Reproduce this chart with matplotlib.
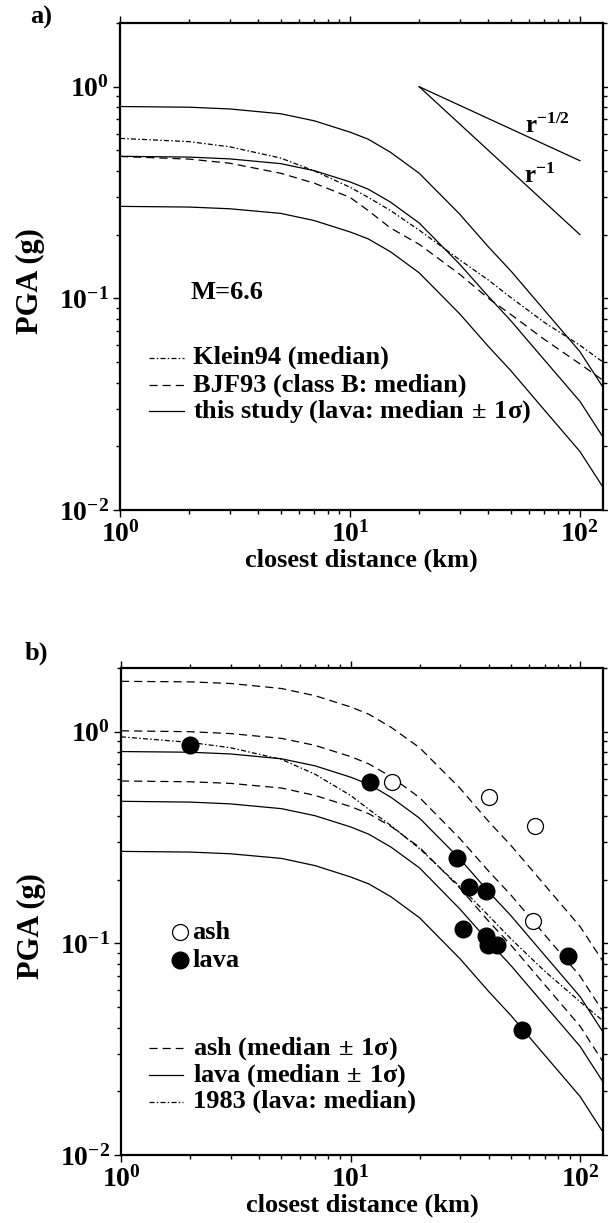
import numpy as np
import matplotlib
matplotlib.use("Agg")
import matplotlib.pyplot as plt
from matplotlib.ticker import FixedLocator, FuncFormatter, LogLocator, NullFormatter

plt.rcParams["font.family"] = ["Liberation Serif", "DejaVu Serif"]
plt.rcParams["font.weight"] = "bold"
plt.rcParams["mathtext.fontset"] = "custom"
plt.rcParams["mathtext.rm"] = "Liberation Serif:bold"
plt.rcParams["mathtext.it"] = "Liberation Serif:bold"
plt.rcParams["mathtext.bf"] = "Liberation Serif:bold"
plt.rcParams["mathtext.default"] = "rm"

dist = [1, 2, 3, 5, 7, 10, 12, 15, 20, 30, 40, 50, 70, 100, 126]

# this study, lava sites: median and +/- 1 sigma (g)
lava_hi = [0.806, 0.80, 0.785, 0.745, 0.69, 0.61, 0.565, 0.49, 0.39, 0.25, 0.175, 0.135, 0.088, 0.056, 0.038]
lava_med = [0.469, 0.465, 0.456, 0.433, 0.401, 0.355, 0.328, 0.285, 0.227, 0.145, 0.102, 0.0785, 0.0512, 0.0326, 0.0221]
lava_lo = [0.272, 0.270, 0.265, 0.252, 0.233, 0.206, 0.191, 0.166, 0.132, 0.0845, 0.0592, 0.0456, 0.0297, 0.0189, 0.0128]

# ash sites: median and +/- 1 sigma (g)
ash_hi = [1.73, 1.72, 1.69, 1.60, 1.48, 1.31, 1.21, 1.05, 0.84, 0.54, 0.376, 0.29, 0.189, 0.120, 0.082]
ash_med = [1.01, 1.00, 0.98, 0.93, 0.862, 0.763, 0.705, 0.613, 0.488, 0.312, 0.219, 0.169, 0.110, 0.070, 0.0475]
ash_lo = [0.585, 0.58, 0.57, 0.542, 0.50, 0.443, 0.41, 0.357, 0.284, 0.182, 0.127, 0.098, 0.0639, 0.0406, 0.0275]

# other relations
klein94 = [0.57, 0.55, 0.52, 0.46, 0.40, 0.335, 0.30, 0.26, 0.21, 0.152, 0.122, 0.101, 0.077, 0.060, 0.050]
bjf93 = [0.468, 0.455, 0.435, 0.39, 0.35, 0.30, 0.26, 0.215, 0.18, 0.13, 0.10, 0.084, 0.064, 0.049, 0.041]
eq1983 = [0.946, 0.89, 0.84, 0.74, 0.63, 0.50, 0.43, 0.36, 0.28, 0.185, 0.135, 0.105, 0.074, 0.053, 0.043]

# geometric spreading reference slopes
ref_r = [20, 100]
ref_half = [1.0, 0.447]
ref_one = [1.0, 0.2]

# recorded PGA, 1983 event
ash_r = [15.2, 40.1, 63.8, 62.2]
ash_pga = [0.581, 0.493, 0.360, 0.127]
lava_r = [2.0, 12.1, 29.0, 32.9, 38.9, 31.0, 38.8, 39.6, 43.4, 88.4, 56.1]
lava_pga = [0.867, 0.581, 0.253, 0.184, 0.176, 0.117, 0.108, 0.098, 0.098, 0.087, 0.039]

DASH = (0, (6.5, 4))
DASHDOT = (0, (4, 1.8, 1.2, 1.8))
LW = 0.9
FS = 19

fig = plt.figure(figsize=(6.08, 12.23), dpi=100)
ax_a = fig.add_axes([0.1974, 0.583, 0.7944, 0.3982])
ax_b = fig.add_axes([0.199, 0.0556, 0.793, 0.3982])


def style(ax):
    ax.set_xscale("log")
    ax.set_yscale("log")
    ax.set_xlim(1, 126)
    ax.set_ylim(0.01, 2.0)
    fmt = FuncFormatter(lambda v, p: r"$10^{%d}$" % round(np.log10(v)))
    ax.xaxis.set_major_locator(FixedLocator([1, 10, 100]))
    ax.yaxis.set_major_locator(FixedLocator([0.01, 0.1, 1]))
    ax.xaxis.set_major_formatter(fmt)
    ax.yaxis.set_major_formatter(fmt)
    ax.xaxis.set_minor_locator(LogLocator(subs=np.arange(2, 10)))
    ax.yaxis.set_minor_locator(LogLocator(subs=np.arange(2, 10)))
    ax.xaxis.set_minor_formatter(NullFormatter())
    ax.yaxis.set_minor_formatter(NullFormatter())
    ax.tick_params(which="both", direction="out", top=True, right=True, width=1.0)
    ax.tick_params(which="major", length=5, labelsize=FS + 1, pad=3)
    ax.tick_params(which="minor", length=3)
    for s in ax.spines.values():
        s.set_linewidth(1.6)
    ax.set_xlabel("closest distance (km)", fontsize=FS, fontweight="bold", labelpad=1)
    ax.set_ylabel("PGA (g)", fontsize=FS + 3, fontweight="bold")
    ax.yaxis.set_label_coords(-0.155, 0.47)


# ---- panel a ----
style(ax_a)
for y in (lava_hi, lava_med, lava_lo):
    ax_a.plot(dist, y, color="k", lw=LW)
ax_a.plot(dist, klein94, color="k", lw=LW, linestyle=DASHDOT)
ax_a.plot(dist, bjf93, color="k", lw=LW, linestyle=DASH)
ax_a.plot(ref_r, ref_half, color="k", lw=LW)
ax_a.plot(ref_r, ref_one, color="k", lw=LW)
ax_a.text(72, 0.65, r"r$^{-1/2}$", fontsize=FS - 1, ha="center", va="center")
ax_a.text(67, 0.38, r"r$^{-1}$", fontsize=FS - 1, ha="center", va="center")
ax_a.text(2.03, 0.107, "M=6.6", fontsize=FS, va="center")

rows = [0.313, 0.256, 0.203]
for yy, ls, lab in zip(rows, [DASHDOT, DASH, "-"],
                       ["Klein94 (median)", "BJF93 (class B: median)",
                        r"this study (lava: median$\,\pm\,$1$\sigma$)"]):
    ax_a.plot([0.06, 0.132], [yy, yy], transform=ax_a.transAxes, color="k", lw=LW, linestyle=ls)
    ax_a.text(0.151, yy, lab, transform=ax_a.transAxes, fontsize=FS, va="center")

# ---- panel b ----
style(ax_b)
for y in (ash_hi, ash_med, ash_lo):
    ax_b.plot(dist, y, color="k", lw=LW, linestyle=DASH)
for y in (lava_hi, lava_med, lava_lo):
    ax_b.plot(dist, y, color="k", lw=LW)
ax_b.plot(dist, eq1983, color="k", lw=LW, linestyle=DASHDOT)
ax_b.plot(ash_r, ash_pga, "o", ms=11.5, mfc="white", mec="k", mew=0.9, zorder=5)
ax_b.plot(lava_r, lava_pga, "o", ms=12, mfc="k", mec="k", zorder=5)

ax_b.plot([0.1215], [0.4577], "o", ms=11.5, mfc="white", mec="k", mew=0.9, transform=ax_b.transAxes)
ax_b.plot([0.1215], [0.400], "o", ms=12, mfc="k", mec="k", transform=ax_b.transAxes)
ax_b.text(0.1485, 0.4577, "ash", transform=ax_b.transAxes, fontsize=FS, va="center")
ax_b.text(0.1485, 0.400, "lava", transform=ax_b.transAxes, fontsize=FS, va="center")

rows = [0.2195, 0.164, 0.1096]
for yy, ls, lab in zip(rows, [DASH, "-", DASHDOT],
                       [r"ash (median$\,\pm\,$1$\sigma$)", r"lava (median$\,\pm\,$1$\sigma$)",
                        "1983 (lava: median)"]):
    ax_b.plot([0.059, 0.128], [yy, yy], transform=ax_b.transAxes, color="k", lw=LW, linestyle=ls)
    ax_b.text(0.1495, yy, lab, transform=ax_b.transAxes, fontsize=FS, va="center")

fig.text(0.05, 0.986, "a)", fontsize=FS, fontweight="bold", ha="left", va="center")
fig.text(0.04, 0.466, "b)", fontsize=FS, fontweight="bold", ha="left", va="center")

fig.savefig("out.png", dpi=100)
